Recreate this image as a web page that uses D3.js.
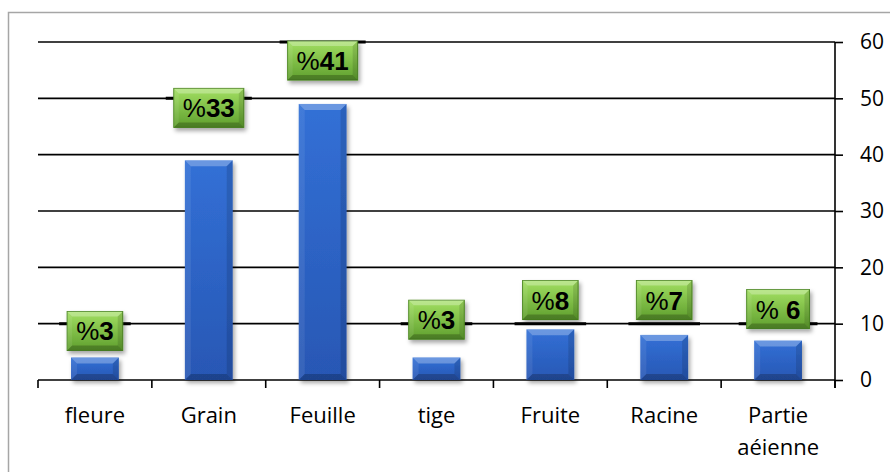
<!DOCTYPE html>
<html>
<head>
<meta charset="utf-8">
<script src="https://cdn.jsdelivr.net/npm/d3@7"></script>
<style>
  html, body { margin: 0; padding: 0; background: #fff; }
  svg { display: block; }
</style>
</head>
<body>
<div id="chart"></div>
<script>
const categories = ["fleure", "Grain", "Feuille", "tige", "Fruite", "Racine", "Partie aéienne"];
const values     = [4, 39, 49, 4, 9, 8, 7];
const labels     = ["%3", "%33", "%41", "%3", "%8", "%7", "% 6"];
// where each green label box sits, in axis units (box centre)
const labelAt    = [8.7, 48.3, 56.7, 10.7, 14.2, 14.2, 12.6];
const yTicks     = [0, 10, 20, 30, 40, 50, 60];

const W = 890, H = 472;
const pL = 38, pR = 835, pT = 42, pB = 380;

const svg = d3.select("#chart").append("svg").attr("width", W).attr("height", H);

const defs = svg.append("defs");
const shadow = defs.append("filter").attr("id", "shadow")
  .attr("x", "-20%").attr("y", "-20%").attr("width", "150%").attr("height", "150%");
shadow.append("feDropShadow").attr("dx", 2).attr("dy", 3).attr("stdDeviation", 2)
  .attr("flood-color", "#000").attr("flood-opacity", 0.35);

const gGreen = defs.append("linearGradient").attr("id", "gGreen").attr("x1", 0).attr("x2", 0).attr("y1", 0).attr("y2", 1);
gGreen.append("stop").attr("offset", "0%").attr("stop-color", "#a2df62");
gGreen.append("stop").attr("offset", "100%").attr("stop-color", "#5f9f2e");

const gBlue = defs.append("linearGradient").attr("id", "gBlue").attr("x1", 0).attr("x2", 0).attr("y1", 0).attr("y2", 1);
gBlue.append("stop").attr("offset", "0%").attr("stop-color", "#3270d6");
gBlue.append("stop").attr("offset", "100%").attr("stop-color", "#2857b4");

// outer frame
svg.append("rect").attr("x", 8.5).attr("y", 12.5).attr("width", 900).attr("height", 500)
  .attr("fill", "none").attr("stroke", "#a6a6a6").attr("stroke-width", 1.5);

const x = d3.scaleBand().domain(categories).range([pL, pR]).padding(0);
const y = d3.scaleLinear().domain([0, 60]).range([pB, pT]);

// grid lines
svg.append("g").selectAll("line").data(yTicks.filter(t => t > 0)).join("line")
  .attr("x1", pL).attr("x2", pR).attr("y1", d => y(d)).attr("y2", d => y(d))
  .attr("stroke", "#000").attr("stroke-width", 1.6);

// right axis
const yAxis = svg.append("g").attr("transform", `translate(${pR},0)`)
  .call(d3.axisRight(y).tickValues(yTicks).tickSize(8).tickPadding(17).tickSizeOuter(0));
yAxis.select(".domain").attr("stroke", "#000").attr("stroke-width", 1.6)
  .attr("d", `M0,${pT}V${pB + 8}`);
yAxis.selectAll(".tick line").attr("stroke", "#000").attr("stroke-width", 1.6);
yAxis.selectAll(".tick text").attr("font-family", "'Open Sans', sans-serif")
  .attr("font-size", "21px").attr("fill", "#000");

// bottom axis with ticks on the category boundaries
const bounds = categories.map(c => x(c)).concat([x.range()[1]]);
const xAxis = svg.append("g");
xAxis.append("line").attr("x1", pL).attr("x2", pR).attr("y1", pB).attr("y2", pB)
  .attr("stroke", "#000").attr("stroke-width", 1.6);
xAxis.selectAll("line.tk").data(bounds).join("line").attr("class", "tk")
  .attr("x1", d => d).attr("x2", d => d).attr("y1", pB).attr("y2", pB + 8)
  .attr("stroke", "#000").attr("stroke-width", 1.6);

const catText = xAxis.selectAll("text").data(categories).join("text")
  .attr("x", d => x(d) + x.bandwidth() / 2).attr("y", 423)
  .attr("text-anchor", "middle").attr("font-family", "'Open Sans', sans-serif")
  .attr("font-size", "22px").attr("fill", "#000").text(d => d);

// wrap long category names
catText.each(function(d) {
  const t = d3.select(this);
  if (this.getComputedTextLength() <= x.bandwidth() - 6) return;
  const words = d.split(" ");
  t.text(null);
  words.forEach((w, i) => {
    t.append("tspan").attr("x", x(d) + x.bandwidth() / 2).attr("dy", i ? 32 : 0).text(w);
  });
});

// bevelled box helper
function bevel(g, bx, by, bw, bh, b, fill, stroke) {
  const grp = g.append("g").attr("filter", "url(#shadow)");
  grp.append("rect").attr("x", bx).attr("y", by).attr("width", bw).attr("height", bh)
    .attr("fill", fill).attr("stroke", stroke || "none").attr("stroke-width", stroke ? 1 : 0);
  const faces = [
    { p: [[bx, by], [bx + bw, by], [bx + bw - b, by + b], [bx + b, by + b]], c: "#fff", o: 0.28 },
    { p: [[bx, by], [bx + b, by + b], [bx + b, by + bh - b], [bx, by + bh]], c: "#fff", o: 0.08 },
    { p: [[bx + bw, by], [bx + bw, by + bh], [bx + bw - b, by + bh - b], [bx + bw - b, by + b]], c: "#000", o: 0.12 },
    { p: [[bx, by + bh], [bx + b, by + bh - b], [bx + bw - b, by + bh - b], [bx + bw, by + bh]], c: "#000", o: 0.22 }
  ];
  grp.selectAll("polygon").data(faces).join("polygon")
    .attr("points", d => d.p.map(q => q.join(",")).join(" "))
    .attr("fill", d => d.c).attr("opacity", d => d.o);
  return grp;
}

// bars
const barW = x.bandwidth() * 0.42;
const bars = svg.append("g");
categories.forEach((c, i) => {
  const bx = x(c) + (x.bandwidth() - barW) / 2;
  const top = y(values[i]);
  const bh = y(0) - top;
  bevel(bars, bx, top, barW, bh, Math.min(6, bh / 2), "url(#gBlue)");
});

// data labels (green boxes)
const lab = svg.append("g");
function labelText(g, cx, cy, m) {
  const t = g.append("text").attr("font-family", "'Liberation Sans', Arial, sans-serif")
    .attr("font-size", "26px").attr("text-anchor", "middle").attr("x", cx).attr("y", cy + 9.5)
    .attr("fill", "#000");
  t.append("tspan").attr("font-weight", "normal").text(m[1].replace(" ", "\u00a0"));
  t.append("tspan").attr("font-weight", "bold").text(m[2]);
  return t;
}
categories.forEach((c, i) => {
  const cx = x(c) + x.bandwidth() / 2;
  const cy = y(labelAt[i]);
  const m = labels[i].match(/^(%\s*)(\d+)$/);
  const tmp = labelText(lab, cx, cy, m);
  const tw = tmp.node().getComputedTextLength();
  tmp.remove();
  const bw = tw + 18, bh = 39;
  // thick stub on the nearest grid line
  const gv = Math.round(labelAt[i] / 10) * 10;
  lab.append("line").attr("x1", cx - bw / 2 - 8).attr("x2", cx + bw / 2 + 8)
    .attr("y1", y(gv)).attr("y2", y(gv)).attr("stroke", "#000").attr("stroke-width", 3);
  bevel(lab, cx - bw / 2, cy - bh / 2, bw, bh, 5, "url(#gGreen)", "#4f8a24");
  labelText(lab, cx, cy, m);
});
</script>
</body>
</html>
